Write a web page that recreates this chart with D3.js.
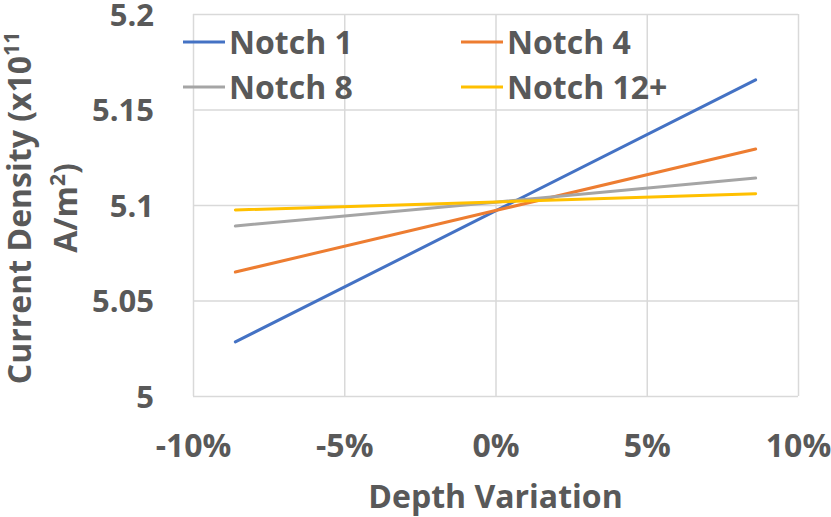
<!DOCTYPE html>
<html>
<head>
<meta charset="utf-8">
<script src="https://cdn.jsdelivr.net/npm/d3@7"></script>
<style>
  body { margin: 0; background: #fff; }
  text { font-family: "Open Sans", sans-serif; font-weight: 700; fill: #595959; }
</style>
</head>
<body>
<div id="canvas"></div>
<script>
// ----------------------------------------------------------
// DATA -----------------------------------------------------
// ----------------------------------------------------------
var depth_values = [-0.086, 0, 0.086];
var series_names = ["Notch 1", "Notch 4", "Notch 8", "Notch 12+"];
var notch_1 = [5.0283, 5.0969, 5.1655];
var notch_4 = [5.0649, 5.0971, 5.1293];
var notch_8 = [5.0890, 5.1015, 5.1141];
var notch_12 = [5.0974, 5.1016, 5.1059];
var x_ticks = [-0.1, -0.05, 0, 0.05, 0.1];
var x_tick_labels = ["-10%", "-5%", "0%", "5%", "10%"];
var y_ticks = [5, 5.05, 5.1, 5.15, 5.2];
var y_tick_labels = ["5", "5.05", "5.1", "5.15", "5.2"];

var series_values = [notch_1, notch_4, notch_8, notch_12];
var series_colors = ["#4472C4", "#ED7D31", "#A5A5A5", "#FFC000"];

// ----------------------------------------------------------
// STRUCTURE ------------------------------------------------
// ----------------------------------------------------------
var W = 831, H = 517;
var plot = { left: 193, right: 798, top: 14, bottom: 396 };

var svg = d3.select("#canvas").append("svg")
  .attr("width", W)
  .attr("height", H);

var xScale = d3.scaleLinear().domain([-0.1, 0.1]).range([plot.left, plot.right]);
var yScale = d3.scaleLinear().domain([5, 5.2]).range([plot.bottom, plot.top]);

// grid lines
svg.append("g")
  .attr("class", "grid_vertical")
  .attr("transform", `translate(0, ${plot.bottom})`)
  .call(d3.axisBottom(xScale).tickValues(x_ticks)
    .tickSize(-(plot.bottom - plot.top)).tickFormat(""))
  .call(g => g.select(".domain").remove())
  .selectAll("line").attr("stroke", "#d9d9d9").attr("stroke-width", 1.5);

svg.append("g")
  .attr("class", "grid_horizontal")
  .attr("transform", `translate(${plot.left}, 0)`)
  .call(d3.axisLeft(yScale).tickValues(y_ticks)
    .tickSize(-(plot.right - plot.left)).tickFormat(""))
  .call(g => g.select(".domain").remove())
  .selectAll("line").attr("stroke", "#d9d9d9").attr("stroke-width", 1.5);

// tick labels
svg.append("g")
  .attr("class", "axis_left")
  .attr("transform", `translate(${plot.left - 36}, 0)`)
  .call(d3.axisLeft(yScale).tickValues(y_ticks).tickSize(0)
    .tickFormat((d, i) => y_tick_labels[i]))
  .call(g => g.select(".domain").remove())
  .selectAll("text")
  .attr("font-size", 31)
  .attr("fill", "#595959")
  .attr("dy", "0.36em");

svg.append("g")
  .attr("class", "axis_bottom")
  .attr("transform", `translate(0, ${plot.bottom})`)
  .call(d3.axisBottom(xScale).tickValues(x_ticks).tickSize(0)
    .tickFormat((d, i) => x_tick_labels[i]))
  .call(g => g.select(".domain").remove())
  .selectAll("text")
  .attr("font-size", 32)
  .attr("fill", "#595959")
  .attr("y", 0)
  .attr("dy", 61);

// axis titles
svg.append("text")
  .attr("x", (plot.left + plot.right) / 2)
  .attr("y", 508)
  .attr("text-anchor", "middle")
  .attr("font-size", 32)
  .text("Depth Variation");

var ytitle = svg.append("g")
  .attr("transform", `translate(31, 208) rotate(-90)`);
var t1 = ytitle.append("text")
  .attr("text-anchor", "middle")
  .attr("font-size", 32);
t1.append("tspan").text("Current Density (x10");
t1.append("tspan").attr("font-size", 21).attr("dy", -12).text("11");
var t2 = ytitle.append("text")
  .attr("text-anchor", "middle")
  .attr("y", 46)
  .attr("font-size", 32);
t2.append("tspan").text("A/m");
t2.append("tspan").attr("font-size", 21).attr("dy", -12).text("2");
t2.append("tspan").attr("dy", 12).text(")");

// ----------------------------------------------------------
// LINES ----------------------------------------------------
// ----------------------------------------------------------
var line = d3.line()
  .x((d, i) => xScale(depth_values[i]))
  .y(d => yScale(d));

svg.append("g")
  .attr("class", "series")
  .selectAll("path")
  .data(series_values)
  .enter()
  .append("path")
  .attr("d", d => line(d))
  .attr("fill", "none")
  .attr("stroke", (d, i) => series_colors[i])
  .attr("stroke-width", 3)
  .attr("stroke-linecap", "round");

// ----------------------------------------------------------
// LEGEND ---------------------------------------------------
// ----------------------------------------------------------
var legend_cols = [183, 461];
var legend_rows = [42, 87];
var legend = svg.append("g").attr("class", "legend")
  .selectAll("g")
  .data(series_names)
  .enter()
  .append("g")
  .attr("transform", (d, i) => `translate(${legend_cols[i % 2]}, ${legend_rows[Math.floor(i / 2)]})`);

legend.append("line")
  .attr("x1", 0).attr("x2", 42)
  .attr("stroke", (d, i) => series_colors[i])
  .attr("stroke-width", 3);

legend.append("text")
  .attr("x", 46)
  .attr("dy", "0.36em")
  .attr("font-size", 32)
  .text(d => d);
</script>
</body>
</html>
